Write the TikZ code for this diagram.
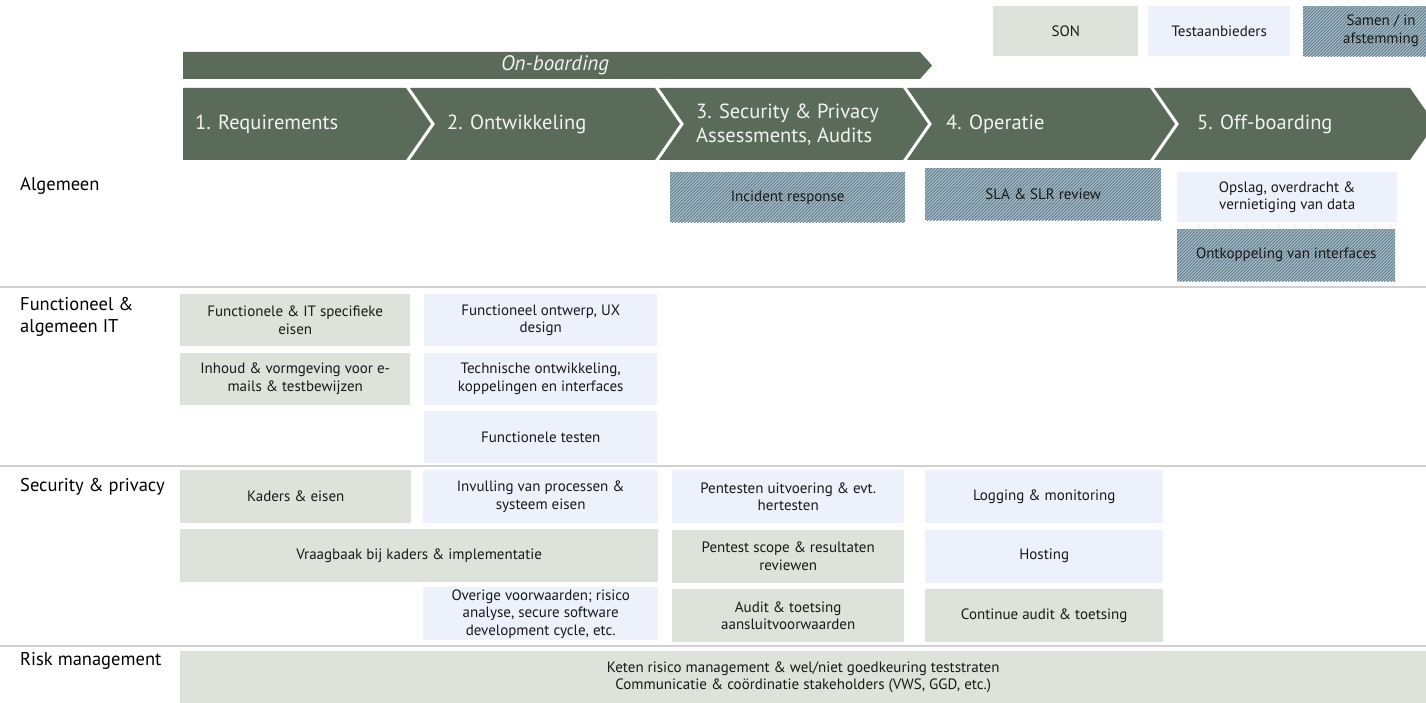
\documentclass[tikz,border=0pt]{standalone}
\usepackage{fontspec}
\setmainfont{PT Sans}
\usetikzlibrary{positioning,patterns}

\definecolor{phase}{RGB}{91,107,89}
\definecolor{songreen}{RGB}{221,226,219}
\definecolor{testblue}{RGB}{237,241,252}
\definecolor{samenbase}{RGB}{164,188,200}
\definecolor{samenline}{RGB}{98,122,136}
\definecolor{sepgray}{RGB}{208,208,208}

\pgfdeclarepatternformonly{samenhatch}{\pgfqpoint{-1pt}{-1pt}}{\pgfqpoint{4pt}{4pt}}{\pgfqpoint{3.2pt}{3.2pt}}{
  \pgfsetlinewidth{0.7pt}
  \pgfpathmoveto{\pgfqpoint{-0.5pt}{-0.5pt}}
  \pgfpathlineto{\pgfqpoint{3.7pt}{3.7pt}}
  \pgfusepath{stroke}}

\tikzset{
  box/.style={rectangle, inner sep=2pt, align=center, text=black!90,
    font=\fontsize{15}{17.5}\selectfont, minimum height=52pt, anchor=north west},
  sonbox/.style={box, fill=songreen},
  testbox/.style={box, fill=testblue},
  samenbox/.style={box, fill=samenbase, postaction={pattern=samenhatch, pattern color=samenline}},
  rowlabel/.style={anchor=west, align=left, inner sep=0pt, font=\fontsize{18.5}{22}\selectfont},
  phasetext/.style={anchor=west, align=left, inner sep=0pt, text=white!95!black, font=\fontsize{20.5}{24}\selectfont},
  sepline/.style={draw=sepgray, line width=1.5pt},
}

\begin{document}
\begin{tikzpicture}[x=1pt, y=-1pt]
  \useasboundingbox (0,0) rectangle (1426,703);

  % legenda
  \node[sonbox, minimum width=145pt, minimum height=50pt] (son) at (993,6) {SON};
  \node[testbox, minimum width=142pt, minimum height=50pt] (testaanb) at (1148,6) {Testaanbieders};
  \node[samenbox, minimum width=123pt, minimum height=50pt] (samen) at (1303,6) {};
  \node[align=center, font=\fontsize{15}{17.5}\selectfont, text=black!90] (samentext) at (1381,31) {Samen / in\\afstemming};

  % on-boarding balk
  \fill[phase] (183,52) -- (920,52) -- (932,65.5) -- (920,79) -- (183,79) -- cycle;
  \node[text=white!95!black, font=\fontsize{21}{24}\itshape] (onboarding) at (555,65.5) {On-boarding};

  % fasen
  \fill[phase] (183,88) -- (406,88) -- (431,124) -- (406,160) -- (183,160) -- cycle;
  \foreach \xa/\xb in {410/655, 659/903, 907/1150}
    \fill[phase] (\xa,88) -- (\xb,88) -- (\xb+25,124) -- (\xb,160) -- (\xa,160) -- (\xa+25,124) -- cycle;
  \fill[phase] (1154,88) -- (1410,88) -- (1426,111) -- (1426,137) -- (1410,160) -- (1154,160) -- (1179,124) -- cycle;

  \node[phasetext] (fase1) at (195,124) {1. Requirements};
  \node[phasetext] (fase2) at (447,124) {2. Ontwikkeling};
  \node[phasetext] (fase3) at (696,125) {3. Security \& Privacy\\Assessments, Audits};
  \node[phasetext] (fase4) at (946,124) {4. Operatie};
  \node[phasetext] (fase5) at (1197,124) {5. Off-boarding};

  % rijen
  \node[rowlabel] (algemeen) at (20,186) {Algemeen};
  \node[rowlabel, anchor=north west] (functioneel) at (20,297) {Functioneel \&\\algemeen IT};
  \node[rowlabel] (security) at (20,487) {Security \& privacy};
  \node[rowlabel] (risk) at (20,661) {Risk management};

  \draw[sepline] (0,287) -- (1426,287);
  \draw[sepline] (0,466) -- (1426,466);
  \draw[sepline] (0,646) -- (1426,646);

  % algemeen
  \node[samenbox, minimum width=235pt, minimum height=50pt] (incident) at (670,172) {Incident response};
  \node[samenbox, minimum width=236pt] (slareview) at (925,168) {SLA \& SLR review};
  \node[testbox, minimum width=220pt, minimum height=50pt] (opslag) at (1177,172) {Opslag, overdracht \&\\vernietiging van data};
  \node[samenbox, minimum width=218pt] (ontkoppeling) at (1177,229) {Ontkoppeling van interfaces};

  % functioneel & algemeen IT
  \node[sonbox, minimum width=230pt] (funceisen) at (180,294) {Functionele \& IT specifieke\\eisen};
  \node[sonbox, minimum width=230pt] (inhoud) [below=6pt of funceisen] {Inhoud \& vormgeving voor e-\\mails \& testbewijzen};
  \node[testbox, minimum width=233pt] (ontwerp) at (424,294) {Functioneel ontwerp, UX\\design};
  \node[testbox, minimum width=233pt] (technisch) [below=6pt of ontwerp] {Technische ontwikkeling,\\koppelingen en interfaces};
  \node[testbox, minimum width=233pt] (functesten) [below=6pt of technisch] {Functionele testen};

  % security & privacy
  \node[sonbox, minimum width=231pt, minimum height=53pt] (kaders) at (180,470) {Kaders \& eisen};
  \node[testbox, minimum width=235pt, minimum height=53pt] (invulling) at (423,470) {Invulling van processen \&\\systeem eisen};
  \node[sonbox, minimum width=478pt, minimum height=53pt] (vraagbaak) at (180,529) {Vraagbaak bij kaders \& implementatie};
  \node[testbox, minimum width=235pt, minimum height=53pt] (overige) at (423,587) {Overige voorwaarden; risico\\analyse, secure software\\development cycle, etc.};
  \node[testbox, minimum width=232pt, minimum height=53pt] (pentesten) at (672,470) {Pentesten uitvoering \& evt.\\hertesten};
  \node[sonbox, minimum width=232pt, minimum height=53pt] (pentestscope) [below=6pt of pentesten] {Pentest scope \& resultaten\\reviewen};
  \node[sonbox, minimum width=232pt, minimum height=53pt] (auditaansluit) [below=6pt of pentestscope] {Audit \& toetsing\\aansluitvoorwaarden};
  \node[testbox, minimum width=238pt, minimum height=53pt] (logging) at (925,470) {Logging \& monitoring};
  \node[testbox, minimum width=238pt, minimum height=53pt] (hosting) [below=6pt of logging] {Hosting};
  \node[sonbox, minimum width=238pt, minimum height=53pt] (contaudit) [below=6pt of hosting] {Continue audit \& toetsing};

  % risk management
  \node[sonbox, minimum width=1246pt, minimum height=52pt] (keten) at (180,651) {Keten risico management \& wel/niet goedkeuring teststraten\\Communicatie \& coördinatie stakeholders (VWS, GGD, etc.)};
\end{tikzpicture}
\end{document}
